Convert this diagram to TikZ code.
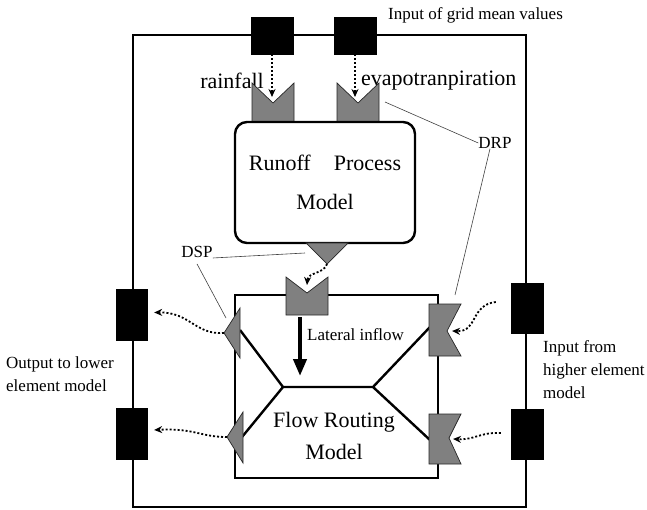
\documentclass[tikz,border=0pt]{standalone}
\usepackage{fontspec}
\setmainfont{Liberation Serif}
\usetikzlibrary{arrows.meta,calc}

\begin{document}
\begin{tikzpicture}[x=1pt,y=-1pt]

\tikzset{
    blk/.style={fill=black,draw=black,inner sep=0pt},
    port/.style={fill=black!50,draw=black!85,line width=0.7pt},
    frame/.style={draw,line width=2.6pt,inner sep=0pt},
    flow/.style={dash pattern=on 2pt off 2pt,line width=1.8pt,-{Stealth[length=8pt,width=7pt]}},
    lead/.style={draw=black!75,line width=0.6pt},
    lbl/.style={font=\fontsize{17}{23}\selectfont,inner sep=0pt},
    big/.style={font=\fontsize{22}{32}\selectfont,inner sep=0pt}}

\useasboundingbox (0,0) rectangle (647,510);

% element boundary and its input/output points
\draw[line width=2.5pt] (133,35) rectangle (526,507);

\node[blk,minimum width=42pt,minimum height=37pt] (rin) at (272,35.5) {};
\node[blk,minimum width=42pt,minimum height=37pt] (ein) at (355,35.5) {};
\node[blk,minimum width=31pt,minimum height=51pt] (lo1) at (131.5,314.5) {};
\node[blk,minimum width=31pt,minimum height=51pt] (lo2) at (131.5,434) {};
\node[blk,minimum width=32pt,minimum height=50pt] (hi1) at (527,308) {};
\node[blk,minimum width=32pt,minimum height=50pt] (hi2) at (527,434) {};

\node[lbl,anchor=west] (grid) at (388,15) {Input of grid mean values};
\node[big,anchor=east] (rain) at (264,81) {rainfall};
\node[big,anchor=west] (evap) at (361,81) {evapotranpiration};

% runoff process model
\coordinate (rn) at (273,103);
\coordinate (en) at (358,103);
\fill[port] (252,83) -- (rn) -- (294,83) -- (294,122) -- (252,122) -- cycle;
\fill[port] (337,83) -- (en) -- (379,83) -- (379,122) -- (337,122) -- cycle;

\node[draw,fill=white,line width=2.4pt,rounded corners=12pt,minimum width=180pt,minimum height=121pt,
      align=center,inner sep=0pt,font=\fontsize{22}{39}\selectfont] (rpm) at (325,182.5)
      {Runoff\hspace{1.05em}Process\\Model};

\coordinate (rs) at (327,264);
\fill[port] (306,243) -- (348,243) -- (rs) -- cycle;

\draw[flow] (rin) -- ($(rn)+(-1,-6)$);
\draw[flow] (ein) -- ($(en)+(-3,-6)$);

% flow routing model
\node[frame,minimum width=203pt,minimum height=183pt] (frm) at (336.5,386.5) {};

\coordinate (a) at (283,387);
\coordinate (b) at (373,387);
\draw[line width=2.4pt] (240,330) -- (a) -- (b) -- (430,327);
\draw[line width=2.4pt] (242,437) -- (a);
\draw[line width=2.4pt] (430,440) -- (b);

\coordinate (ln) at (307,293);
\fill[port] (286,277) -- (ln) -- (328,277) -- (328,315) -- (286,315) -- cycle;

\coordinate (d1) at (224,333);
\coordinate (d2) at (227,437);
\fill[port] (240,308) -- (d1) -- (240,358) -- cycle;
\fill[port] (243,412) -- (d2) -- (243,463) -- cycle;

\coordinate (u1) at (447,331);
\coordinate (u2) at (449,438);
\fill[port] (429,304) -- (461,304) -- (u1) -- (461,356) -- (429,356) -- cycle;
\fill[port] (429,414) -- (461,414) -- (u2) -- (461,464) -- (429,464) -- cycle;

\draw[line width=4pt,-{Triangle[length=17pt,width=13pt]}] (300,317) -- (300,376);
\node[lbl,anchor=west] (lat) at (307,335) {Lateral inflow};
\node[big,align=center] (fr) at (334,436) {Flow Routing\\Model};

% dotted transfers
\draw[flow] (rs) .. controls (324,274) and (308,272) .. ($(ln)+(0,-8)$);
\draw[flow] (d1) .. controls (195,335) and (190,312) .. ($(lo1.east)+(7,-2)$);
\draw[flow] (d2) .. controls (200,437) and (195,428) .. ($(lo2.east)+(7,-4)$);
\draw[flow] ($(hi1.west)+(-15,-6)$) .. controls (470,305) and (478,332) .. ($(u1)+(5,0)$);
\draw[flow] ($(hi2.west)+(-10,-1)$) .. controls (480,432) and (475,440) .. ($(u2)+(4,1)$);

% labels
\node[lbl] (drp) at (495,143) {DRP};
\node[lbl] (dsp) at (197,252) {DSP};
\draw[lead] (385,102) -- (drp.west);
\draw[lead] (drp.south) ++(-5,0) -- (455,295);
\draw[lead] (dsp.east) ++(0,6) -- (305,253);
\draw[lead] (dsp.south) ++(0,6) -- (226,318);

\node[lbl,anchor=west,align=left] (out) at (6,374) {Output to lower\\element model};
\node[lbl,anchor=west,align=left] (inp) at (543,370) {Input from\\higher element\\model};

\end{tikzpicture}
\end{document}
